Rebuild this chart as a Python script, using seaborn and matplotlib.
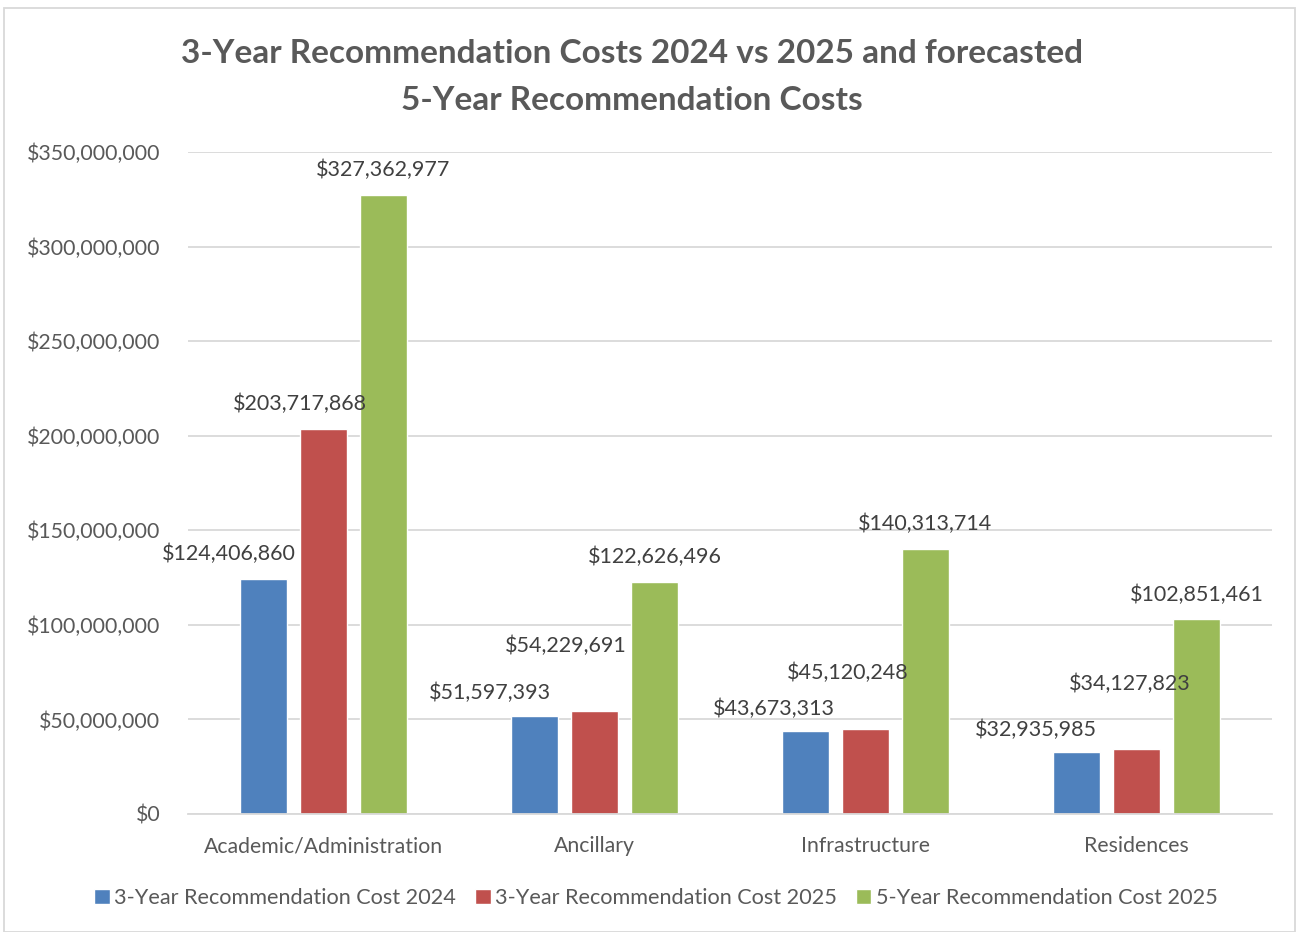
import matplotlib
matplotlib.use("Agg")
import matplotlib.pyplot as plt
import matplotlib.ticker as mticker
from matplotlib.patches import Rectangle
import seaborn as sns
import pandas as pd

categories = ["Academic/Administration", "Ancillary", "Infrastructure", "Residences"]
series_names = ["3-Year Recommendation Cost 2024",
                "3-Year Recommendation Cost 2025",
                "5-Year Recommendation Cost 2025"]
cost_3yr_2024 = [124406860, 51597393, 43673313, 32935985]
cost_3yr_2025 = [203717868, 54229691, 45120248, 34127823]
cost_5yr_2025 = [327362977, 122626496, 140313714, 102851461]
title_text = "3-Year Recommendation Costs 2024 vs 2025 and forecasted\n5-Year Recommendation Costs"

colors = ["#4F81BD", "#C0504D", "#9BBB59"]

rows = []
for name, vals in zip(series_names, [cost_3yr_2024, cost_3yr_2025, cost_5yr_2025]):
    for c, v in zip(categories, vals):
        rows.append({"Category": c, "Series": name, "Cost": v})
df = pd.DataFrame(rows)

sns.set_theme(style="white")
plt.rcParams['font.family'] = ['Lato', 'DejaVu Sans']

fig = plt.figure(figsize=(12.99, 9.32), dpi=100)
ax = fig.add_axes([188/1299, 1-814/932, (1272-188)/1299, (814-152)/932])

sns.barplot(data=df, x="Category", y="Cost", hue="Series", order=categories,
            hue_order=series_names, palette=colors, width=0.663, gap=0.22,
            saturation=1, ax=ax, legend=True, errorbar=None)

ax.set_ylim(0, 350_000_000)
ax.set_xlim(-0.5, 3.5)
ax.yaxis.set_major_locator(mticker.MultipleLocator(50_000_000))
ax.yaxis.set_major_formatter(mticker.FuncFormatter(lambda v, p: f"${v:,.0f}"))
ax.grid(axis="y", color="#D9D9D9", linewidth=1.3)
ax.set_axisbelow(True)
for s in ["left", "right", "top"]:
    ax.spines[s].set_visible(False)
ax.spines["bottom"].set_color("#D9D9D9")
ax.spines["bottom"].set_linewidth(1.3)
ax.set_xlabel("")
ax.set_ylabel("")
ax.tick_params(axis="y", labelsize=15.3, colors="#595959", length=0, pad=20)
ax.tick_params(axis="x", labelsize=15.3, colors="#595959", length=0, pad=16)

# data labels: (dx, dy) offsets in points per series, per category
label_offsets = [
    [(-25, 18), (-32, 17), (-23, 16), (-29, 16)],
    [(-17, 18), (-21, 47), (-13, 40), (-5, 47)],
    [(0, 18), (0, 18), (0, 18), (0, 18)],
]
for si, cont in enumerate(ax.containers):
    for ci, bar in enumerate(cont):
        h = bar.get_height()
        dx, dy = label_offsets[si][ci]
        ax.annotate(f"${h:,.0f}", (bar.get_x() + bar.get_width()/2, h),
                    xytext=(dx, dy), textcoords="offset points",
                    ha="center", va="center", fontsize=15.5, color="#404040")

leg = ax.legend(loc="center", bbox_to_anchor=(0.505, (932-898)/932), bbox_transform=fig.transFigure,
                ncol=3, frameon=False, fontsize=15.6, handlelength=0.7, handleheight=0.7,
                handletextpad=0.2, columnspacing=0.9, labelcolor="#595959")

fig.suptitle(title_text, x=632/1299, y=1-39/932, va="top", fontsize=24, fontweight="bold",
             color="#595959", linespacing=1.75)

fig.patches.append(Rectangle((4/1299, 0), 1-8/1299, 1-8/932, transform=fig.transFigure,
                             fill=False, edgecolor="#D9D9D9", linewidth=1.3))

fig.savefig("out.png", dpi=100, facecolor="white")
